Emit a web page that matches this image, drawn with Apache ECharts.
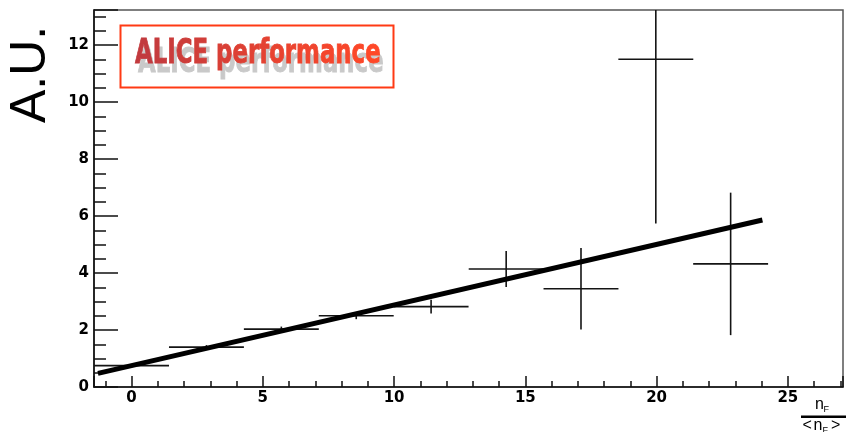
<!DOCTYPE html>
<html>
<head>
<meta charset="utf-8">
<script src="https://cdn.jsdelivr.net/npm/echarts@6/dist/echarts.min.js"></script>
<style>
  html, body { margin: 0; padding: 0; background: #ffffff; }
  #chart { width: 846px; height: 432px; }
</style>
</head>
<body>
<div id="chart"></div>
<script>
// Histogram bins in n_F / <n_F>
const binCenters    = [0, 2.853, 5.706, 8.559, 11.41, 14.27, 17.12, 19.97, 22.82];
const binHalfWidths = [1.427, 1.427, 1.427, 1.427, 1.427, 1.427, 1.427, 1.427, 1.427];
const binValues     = [0.75, 1.40, 2.03, 2.50, 2.82, 4.14, 3.45, 11.50, 4.32];
const binErrors     = [0.05, 0.07, 0.09, 0.12, 0.245, 0.635, 1.43, 5.76, 2.50];

// Linear fit drawn across the populated range
const fitX = [-1.28, 24.03];
const fitY = [0.48, 5.86];

// Axis ranges
const xRange = [-1.43, 27.1];
const yRange = [0, 13.23];

const labelFont = { color: '#000', fontFamily: 'DejaVu Sans', fontWeight: 'bold', fontSize: 15 };
const ink = '#111';

function errorCross(params, api) {
  const cs = params.coordSys;
  const clampX = v => Math.max(cs.x, Math.min(cs.x + cs.width, v));
  const clampY = v => Math.max(cs.y, Math.min(cs.y + cs.height, v));
  const x = api.value(0), y = api.value(1), hw = api.value(2), e = api.value(3);
  const mid = api.coord([x, y]);
  const left = api.coord([x - hw, y]);
  const right = api.coord([x + hw, y]);
  const top = api.coord([x, y + e]);
  const bottom = api.coord([x, y - e]);
  const style = { stroke: '#141414', lineWidth: 1.6, fill: null };
  return {
    type: 'group',
    children: [
      { type: 'line', shape: { x1: clampX(left[0]), y1: mid[1], x2: clampX(right[0]), y2: mid[1] }, style: style },
      { type: 'line', shape: { x1: mid[0], y1: clampY(top[1]), x2: mid[0], y2: clampY(bottom[1]) }, style: style }
    ]
  };
}

// Banner text: each letter gets its own rich-text style so the colour
// shifts from deep red on the left to bright orange-red on the right.
const bannerText = 'ALICE performance';
const bannerFont = 'bold 34px "DejaVu Sans", sans-serif';
const bannerFrom = [194, 58, 62];
const bannerTo = [255, 72, 40];
const bannerRich = {};
let bannerMarkup = '';
bannerText.split('').forEach((ch, i) => {
  const t = i / (bannerText.length - 1);
  const rgb = 'rgb(' + bannerFrom.map((c, k) => Math.round(c + (bannerTo[k] - c) * t)).join(',') + ')';
  const key = 'c' + i;
  bannerRich[key] = { fill: rgb, stroke: rgb, lineWidth: 0.9, font: bannerFont };
  bannerMarkup += '{' + key + '|' + (ch === ' ' ? '\u00a0' : ch) + '}';
});

const chart = echarts.init(document.getElementById('chart'), null, { renderer: 'canvas' });

chart.setOption({
  animation: false,
  backgroundColor: '#ffffff',
  grid: {
    left: 94, top: 10, width: 755, height: 377,
    show: true, borderColor: '#555', borderWidth: 1.5, backgroundColor: 'transparent'
  },
  xAxis: {
    type: 'value',
    min: xRange[0], max: xRange[1],
    splitNumber: 6,
    axisLine: { show: true, onZero: false, lineStyle: { color: ink, width: 1.5 } },
    axisTick: { show: true, inside: true, length: 11, lineStyle: { color: ink, width: 1.5 } },
    minorTick: { show: true, splitNumber: 5, length: 6, lineStyle: { color: ink, width: 1.5 } },
    splitLine: { show: false },
    axisLabel: Object.assign({
      margin: 4,
      formatter: v => (Math.abs(v % 5) < 1e-6 ? String(Math.round(v)) : '')
    }, labelFont)
  },
  yAxis: {
    type: 'value',
    min: yRange[0], max: yRange[1],
    interval: 2,
    axisLine: { show: true, onZero: false, lineStyle: { color: ink, width: 1.6 } },
    axisTick: { show: true, inside: true, length: 24, lineStyle: { color: ink, width: 1.5 } },
    minorTick: { show: true, splitNumber: 4, length: 12, lineStyle: { color: ink, width: 1.5 } },
    splitLine: { show: false },
    axisLabel: Object.assign({
      margin: 5,
      formatter: v => (Math.abs(v % 2) < 1e-6 ? String(Math.round(v)) : '')
    }, labelFont)
  },
  series: [
    {
      type: 'custom',
      renderItem: errorCross,
      encode: { x: 0, y: 1 },
      data: binCenters.map((c, i) => [c, binValues[i], binHalfWidths[i], binErrors[i]]),
      z: 2
    },
    {
      type: 'line',
      data: fitX.map((x, i) => [x, fitY[i]]),
      showSymbol: false,
      symbol: 'none',
      lineStyle: { color: '#000', width: 5, cap: 'butt' },
      z: 3
    }
  ],
  graphic: [
    // vertical axis title
    {
      type: 'text', x: 31, y: 123, rotation: Math.PI / 2,
      style: { text: 'A.U.', font: '50px "Liberation Sans", Arial, sans-serif', fill: '#000', align: 'left', verticalAlign: 'middle' }
    },
    // performance label box
    {
      type: 'rect', z: 100,
      shape: { x: 120.5, y: 25.5, width: 273, height: 62 },
      style: { fill: '#ffffff', stroke: '#ff3a14', lineWidth: 2 }
    },
    {
      type: 'text', z: 101, x: 138, y: 63.5, scaleX: 0.672,
      style: { text: bannerText, font: bannerFont, fill: '#c9c9c9', stroke: '#c9c9c9', lineWidth: 0.9, align: 'left', verticalAlign: 'middle' }
    },
    {
      type: 'text', z: 102, x: 135, y: 54.5, scaleX: 0.672,
      style: { text: bannerMarkup, rich: bannerRich, font: bannerFont, align: 'left', verticalAlign: 'middle' }
    },
    // horizontal axis title: n_F / <n_F>
    { type: 'text', x: 815, y: 404.5, style: { text: 'n', font: '16px "Liberation Sans", Arial, sans-serif', fill: '#000', align: 'left', verticalAlign: 'middle' } },
    { type: 'text', x: 823.5, y: 409.5, style: { text: 'F', font: '9px "Liberation Sans", Arial, sans-serif', fill: '#000', align: 'left', verticalAlign: 'middle' } },
    { type: 'rect', shape: { x: 801, y: 415.5, width: 50, height: 2.6 }, style: { fill: '#000' } },
    { type: 'text', x: 802.5, y: 426, style: { text: '<', font: '16px "Liberation Sans", Arial, sans-serif', fill: '#000', align: 'left', verticalAlign: 'middle' } },
    { type: 'text', x: 813.5, y: 426, style: { text: 'n', font: '16px "Liberation Sans", Arial, sans-serif', fill: '#000', align: 'left', verticalAlign: 'middle' } },
    { type: 'text', x: 822.5, y: 431, style: { text: 'F', font: '9px "Liberation Sans", Arial, sans-serif', fill: '#000', align: 'left', verticalAlign: 'middle' } },
    { type: 'text', x: 831, y: 426, style: { text: '>', font: '16px "Liberation Sans", Arial, sans-serif', fill: '#000', align: 'left', verticalAlign: 'middle' } }
  ]
});
</script>
</body>
</html>
